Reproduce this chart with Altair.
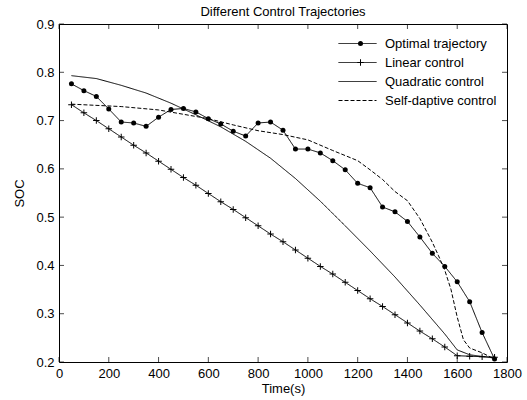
import altair as alt
import pandas as pd

names = ["Optimal trajectory", "Linear control", "Quadratic control", "Self-daptive control"]

t_opt = [50, 100, 150, 200, 250, 300, 350, 400, 450, 500, 550, 600, 650, 700, 750, 800, 850, 900,
         950, 1000, 1050, 1100, 1150, 1200, 1250, 1300, 1350, 1400, 1450, 1500, 1550, 1600, 1650, 1700, 1750]
soc_opt = [0.776, 0.762, 0.750, 0.724, 0.697, 0.695, 0.688, 0.707, 0.723, 0.725, 0.718, 0.704, 0.693,
           0.678, 0.668, 0.695, 0.697, 0.680, 0.641, 0.641, 0.633, 0.617, 0.598, 0.570, 0.561, 0.521,
           0.511, 0.491, 0.459, 0.425, 0.398, 0.366, 0.325, 0.261, 0.206]

t_lin = t_opt
soc_lin = [0.733, 0.716, 0.700, 0.683, 0.666, 0.649, 0.633, 0.616, 0.599, 0.582, 0.566, 0.549, 0.532,
           0.516, 0.499, 0.482, 0.465, 0.449, 0.432, 0.415, 0.398, 0.382, 0.365, 0.348, 0.331, 0.315,
           0.298, 0.281, 0.264, 0.248, 0.231, 0.213, 0.212, 0.211, 0.210]

t_quad = [50, 150, 250, 350, 450, 550, 650, 750, 850, 950, 1050, 1150, 1250, 1350, 1450, 1550, 1600, 1650, 1750]
soc_quad = [0.793, 0.787, 0.773, 0.757, 0.736, 0.712, 0.687, 0.657, 0.622, 0.580, 0.533, 0.482, 0.430,
            0.376, 0.318, 0.258, 0.225, 0.215, 0.208]

t_self = [50, 250, 400, 500, 600, 700, 800, 900, 1000, 1100, 1200, 1250, 1300, 1350, 1400, 1450, 1500,
          1525, 1550, 1575, 1600, 1625, 1650, 1700, 1750]
soc_self = [0.734, 0.729, 0.722, 0.713, 0.704, 0.691, 0.679, 0.671, 0.660, 0.638, 0.617, 0.598, 0.578,
            0.553, 0.534, 0.497, 0.448, 0.420, 0.390, 0.350, 0.293, 0.246, 0.229, 0.219, 0.206]

x_ticks = [0, 200, 400, 600, 800, 1000, 1200, 1400, 1600, 1800]
y_ticks = [0.2, 0.3, 0.4, 0.5, 0.6, 0.7, 0.8, 0.9]

FONT = "Liberation Sans"
W, H = 448, 338

rows = []
for n, ts, vs in zip(names, [t_opt, t_lin, t_quad, t_self], [soc_opt, soc_lin, soc_quad, soc_self]):
    for t, v in zip(ts, vs):
        rows.append({"t": t, "soc": v, "series": n})
lines_df = pd.DataFrame(rows)
points_df = lines_df[lines_df["series"].isin(names[:2])]

xs = alt.Scale(domain=[0, 1800], nice=False, zero=False)
ys = alt.Scale(domain=[0.2, 0.9], nice=False, zero=False)

x_axis = alt.Axis(values=x_ticks, format="d", tickSize=0, domain=False, grid=False, labelFontSize=13,
                  labelFont=FONT, labelColor="black", labelPadding=5, labelFlush=False, labelOverlap=False,
                  title="Time(s)", titleFont=FONT, titleFontSize=13, titleFontWeight="normal",
                  titleColor="black", titlePadding=2)
y_axis = alt.Axis(values=y_ticks, format=".1f", tickSize=0, domain=False, grid=False, labelFontSize=13,
                  labelFont=FONT, labelColor="black", labelPadding=5, labelFlush=False, labelOverlap=False,
                  title="SOC", titleFont=FONT, titleFontSize=13, titleFontWeight="normal",
                  titleColor="black", titlePadding=9)

X = alt.X("t:Q", scale=xs, axis=x_axis)
Y = alt.Y("soc:Q", scale=ys, axis=y_axis)

LX, LY = 279, 10

lines = alt.Chart(lines_df).mark_line(color="black", strokeWidth=1).encode(
    x=X, y=Y,
    strokeDash=alt.StrokeDash(
        "series:N",
        scale=alt.Scale(domain=names, range=[[1, 0], [1, 0], [1, 0], [4, 2]]),
        legend=alt.Legend(orient="none", legendX=LX, legendY=LY, title=None, symbolType="stroke",
                          symbolSize=1444, symbolStrokeWidth=1, symbolStrokeColor="black",
                          labelFont=FONT, labelFontSize=13, labelColor="black", labelOffset=8,
                          clipHeight=19, rowPadding=0, padding=0),
    ),
)

plus_path = "M-1.3,-0.2H1.3V0.2H-1.3ZM-0.2,-1.3H0.2V1.3H-0.2Z"
points = alt.Chart(points_df).mark_point(filled=True, fill="black", strokeWidth=0,
                                         opacity=1, size=25).encode(
    x=X, y=Y,
    shape=alt.Shape(
        "series:N", sort=names,
        scale=alt.Scale(range=["circle", plus_path]),
        legend=alt.Legend(orient="none", legendX=LX, legendY=LY, title=None, symbolSize=25,
                          symbolFillColor="black", symbolStrokeWidth=0,
                          symbolOpacity=1, symbolOffset=16, labelExpr="''", labelFontSize=13,
                          clipHeight=19, rowPadding=0, padding=0),
    ),
)

xt_df = pd.DataFrame({"t": x_ticks})
yt_df = pd.DataFrame({"soc": y_ticks})
tick_bottom = alt.Chart(xt_df).mark_tick(orient="vertical", size=5, thickness=1, color="black").encode(
    x=X, y=alt.value(H - 2.5))
tick_top = alt.Chart(xt_df).mark_tick(orient="vertical", size=5, thickness=1, color="black").encode(
    x=X, y=alt.value(2.5))
tick_left = alt.Chart(yt_df).mark_tick(orient="horizontal", size=5, thickness=1, color="black").encode(
    y=Y, x=alt.value(2.5))
tick_right = alt.Chart(yt_df).mark_tick(orient="horizontal", size=5, thickness=1, color="black").encode(
    y=Y, x=alt.value(W - 2.5))

chart = alt.layer(lines, points, tick_bottom, tick_top, tick_left, tick_right).properties(
    width=W, height=H,
    title=alt.TitleParams("Different Control Trajectories", font=FONT, fontSize=13, fontWeight="normal",
                          color="black", anchor="middle", offset=-1),
    autosize=alt.AutoSizeParams(type="none"),
    padding={"left": 59, "top": 24, "right": 20, "bottom": 38},
    background="white",
).configure_view(stroke="black", strokeWidth=1)

chart.save("out.html", embed_options={"renderer": "svg", "actions": False})
